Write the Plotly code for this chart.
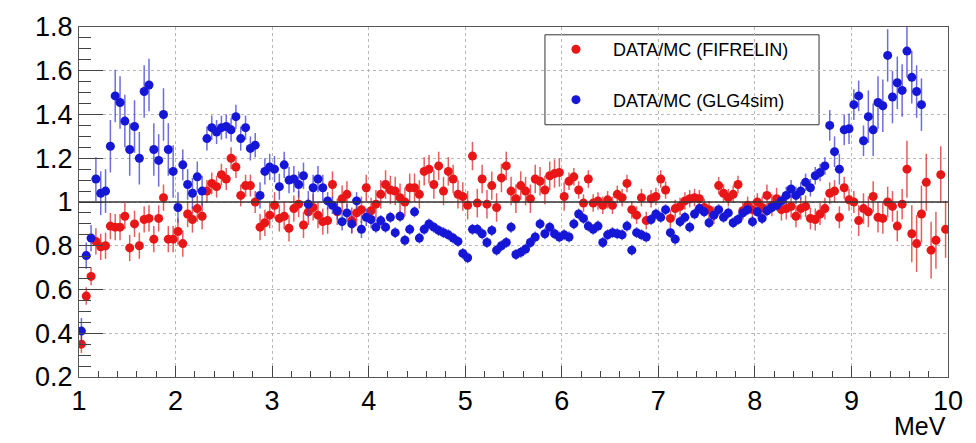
import plotly.graph_objects as go

# Energy bins: 0.05 MeV wide, from 1 to 10 MeV (bin centres)
bin_width = 0.05
energy_start = 1.0
n_bins = 180
energy = [round(energy_start + bin_width * (i + 0.5), 4) for i in range(n_bins)]

# DATA/MC ratio, FIFRELIN model
ratio_fifrelin = [
    0.35, 0.57, 0.66, 0.82, 0.795, 0.80, 0.89, 0.885, 0.885, 0.935,
    0.79, 0.90, 0.80, 0.92, 0.925, 0.83, 0.925, 1.02, 0.83, 0.83,
    0.865, 0.81, 0.945, 0.92, 0.97, 0.935, 1.05, 1.085, 1.07, 1.125,
    1.105, 1.20, 1.16, 1.03, 1.075, 1.075, 1.00, 0.885, 0.905, 0.94,
    0.985, 0.925, 0.935, 0.88, 0.97, 0.99, 0.895, 0.955, 0.975, 0.94,
    0.91, 0.915, 1.08, 0.955, 1.015, 1.035, 0.915, 0.95, 0.965, 1.065,
    0.96, 0.99, 1.035, 1.08, 1.055, 1.05, 1.02, 1.00, 1.065, 1.065,
    1.035, 1.14, 1.15, 1.08, 1.165, 1.05, 1.14, 1.105, 1.035, 1.025,
    0.985, 1.21, 0.995, 1.105, 0.99, 1.075, 0.975, 1.11, 1.165, 1.05,
    1.015, 1.075, 1.05, 1.015, 1.105, 1.095, 1.055, 1.12, 1.13, 1.135,
    1.025, 1.095, 1.115, 1.055, 0.995, 1.105, 0.995, 1.005, 0.985, 1.01,
    0.985, 1.035, 1.02, 1.085, 0.965, 0.94, 1.02, 0.915, 1.015, 1.025,
    1.105, 1.055, 0.925, 0.97, 0.98, 1.005, 1.015, 1.02, 1.015, 0.975,
    0.965, 0.94, 1.075, 1.04, 1.02, 1.035, 1.08, 0.96, 0.985, 0.965,
    1.00, 0.975, 1.03, 0.985, 1.015, 0.965, 0.97, 0.98, 0.935, 0.97,
    0.98, 0.925, 0.92, 0.945, 0.97, 1.04, 1.05, 0.93, 1.065, 1.01,
    1.00, 0.915, 0.97, 0.955, 1.025, 0.93, 0.925, 1.00, 0.98, 0.89,
    0.99, 1.15, 0.855, 0.81, 0.945, 1.09, 0.78, 0.825, 1.125, 0.875,
]

# DATA/MC ratio, GLG4sim model (no entries above 9.75 MeV)
ratio_glg4sim = [
    0.41, 0.755, 0.835, 1.105, 1.04, 1.05, 1.255, 1.485, 1.455, 1.37,
    1.24, 1.345, 1.20, 1.505, 1.535, 1.24, 1.19, 1.40, 1.24, 1.14,
    0.975, 1.17, 1.08, 1.04, 1.115, 1.05, 1.29, 1.34, 1.32, 1.34,
    1.345, 1.33, 1.39, 1.29, 1.34, 1.245, 1.26, 1.03, 1.14, 1.16,
    1.15, 1.07, 1.17, 1.10, 1.105, 1.08, 1.12, 0.99, 1.065, 1.105,
    1.065, 1.005, 0.985, 0.96, 0.91, 0.95, 0.90, 1.005, 0.875, 0.93,
    0.92, 0.885, 0.915, 0.885, 0.93, 0.86, 0.935, 0.825, 0.875, 0.955,
    0.835, 0.875, 0.90, 0.885, 0.87, 0.86, 0.85, 0.835, 0.82, 0.765,
    0.745, 0.875, 0.875, 0.855, 0.815, 0.87, 0.78, 0.80, 0.815, 0.885,
    0.76, 0.77, 0.785, 0.815, 0.84, 0.90, 0.855, 0.885, 0.855, 0.84,
    0.85, 0.84, 0.90, 0.945, 0.925, 0.89, 0.875, 0.89, 0.815, 0.85,
    0.86, 0.855, 0.85, 0.89, 0.78, 0.86, 0.85, 0.84, 0.92, 0.945,
    0.93, 0.965, 0.86, 0.83, 0.91, 0.93, 0.885, 0.945, 0.97, 0.955,
    0.905, 0.94, 0.965, 0.93, 0.95, 0.905, 0.92, 0.95, 0.965, 0.91,
    0.955, 0.925, 0.96, 0.975, 0.985, 1.005, 1.03, 1.06, 1.03, 1.05,
    1.09, 1.065, 1.12, 1.135, 1.165, 1.35, 1.23, 1.15, 1.33, 1.335,
    1.445, 1.485, 1.28, 1.39, 1.33, 1.455, 1.44, 1.67, 1.48, 1.545,
    1.51, 1.69, 1.57, 1.505, 1.445,
]

# Statistical uncertainties (half-widths), estimated per energy range
err_fifrelin = ([0.04] * 3 + [0.06] * 23 + [0.05] * 11 + [0.06] * 24
                + [0.065] * 40 + [0.04] * 40 + [0.05] * 20 + [0.07] * 10
                + [0.13] * 9)
err_glg4sim = ([0.06] * 3 + [0.10] * 3 + [0.12] * 14 + [0.07] * 6
               + [0.055] * 11 + [0.06] * 14 + [0.04] * 10 + [0.025] * 85
               + [0.04] * 9 + [0.07] * 8 + [0.12] * 12)

x_ticks = [1, 2, 3, 4, 5, 6, 7, 8, 9, 10]
y_ticks = [0.2, 0.4, 0.6, 0.8, 1.0, 1.2, 1.4, 1.6, 1.8]
y_labels = ["0.2", "0.4", "0.6", "0.8", "1", "1.2", "1.4", "1.6", "1.8"]

RED = "rgb(232,22,22)"
BLUE = "rgb(22,22,215)"
FONT = "Liberation Sans, Arial, Helvetica, sans-serif"

fig = go.Figure()

fig.add_trace(go.Scatter(
    x=energy, y=ratio_fifrelin,
    mode="markers",
    name="DATA/MC (FIFRELIN)", legendgroup="fifrelin",
    marker=dict(color=RED, size=9, symbol="circle"),
    error_y=dict(type="data", array=err_fifrelin, visible=True,
                 color="rgba(220,40,40,0.75)", thickness=1.5, width=0),
))

fig.add_trace(go.Scatter(
    x=energy[:len(ratio_glg4sim)], y=ratio_glg4sim,
    mode="markers",
    name="DATA/MC (GLG4sim)", legendgroup="glg4sim",
    marker=dict(color=BLUE, size=9, symbol="circle"),
    error_y=dict(type="data", array=err_glg4sim, visible=True,
                 color="rgba(60,60,210,0.75)", thickness=1.5, width=0),
))

# Legend frame
fig.add_shape(type="rect", xref="paper", yref="paper",
              x0=0.5362, x1=0.8516, y0=0.7207, y1=0.9777,
              line=dict(color="#333333", width=1), fillcolor="white",
              layer="below")

# Reference line at ratio = 1
fig.add_shape(type="line", xref="paper", yref="y",
              x0=0, x1=1, y0=1, y1=1,
              line=dict(color="#333333", width=1.6), layer="above")

# Axis unit label at the right end of the x axis
fig.add_annotation(text="MeV", xref="paper", yref="paper",
                   x=1.0, y=-0.14, xanchor="right", yanchor="middle",
                   showarrow=False, font=dict(family=FONT, size=25, color="black"))

axis_common = dict(
    showline=True, linecolor="#555555", linewidth=1, mirror=True,
    showgrid=True, gridcolor="#b8b8b8", griddash="dot", gridwidth=1,
    ticks="inside", tickcolor="#444444", zeroline=False,
    tickfont=dict(family=FONT, size=27, color="black"),
)

fig.update_xaxes(range=[1, 10], tickvals=x_ticks, ticklen=11,
                 minor=dict(ticks="inside", dtick=0.2, ticklen=6,
                            tickcolor="#444444", showgrid=False),
                 **axis_common)
fig.update_yaxes(range=[0.2, 1.8], tickvals=y_ticks, ticktext=y_labels,
                 ticklen=24,
                 minor=dict(ticks="inside", dtick=0.05, ticklen=12,
                            tickcolor="#444444", showgrid=False),
                 **axis_common)

fig.update_layout(
    width=976, height=443,
    margin=dict(l=79, r=28, t=19, b=66),
    paper_bgcolor="white", plot_bgcolor="white",
    font=dict(family=FONT, color="black"),
    showlegend=True,
    legend=dict(x=0.5293, y=0.9885, xanchor="left", yanchor="top",
                bgcolor="rgba(0,0,0,0)", borderwidth=0,
                font=dict(family=FONT, size=18, color="black"),
                tracegroupgap=24, itemwidth=64),
)

fig.write_html("out.html")
